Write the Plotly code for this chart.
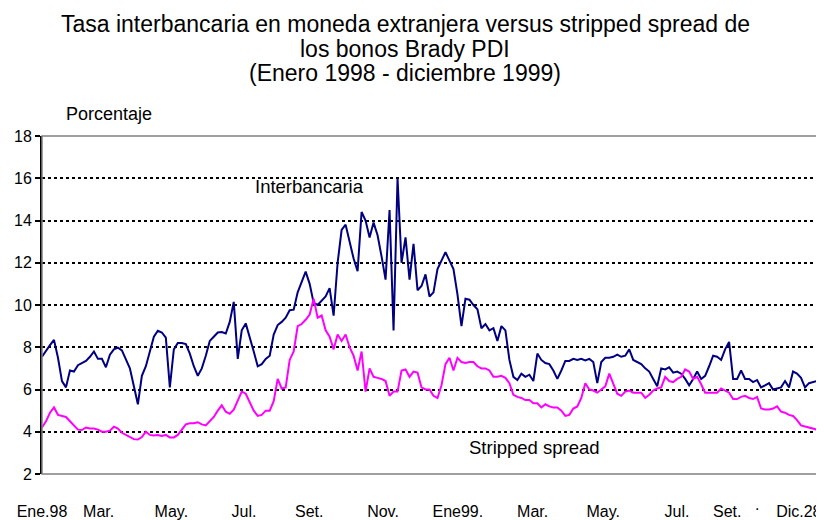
import pandas as pd
import plotly.graph_objects as go

START_DATE = "1998-01-02"
END_DATE = "1999-12-28"

interbancaria = [
    7.55, 7.85, 8.1, 8.35, 7.5, 6.4, 6.1, 6.9, 6.85, 7.15,
    7.25, 7.35, 7.55, 7.8, 7.45, 7.45, 7.05, 7.65, 7.9, 7.98,
    7.85, 7.4, 7.0, 6.15, 5.3, 6.65, 7.1, 7.8, 8.5, 8.78,
    8.7, 8.45, 6.1, 7.9, 8.2, 8.2, 8.15, 7.7, 7.1, 6.65,
    7.0, 7.6, 8.3, 8.5, 8.7, 8.72, 8.65, 9.2, 10.15, 7.45,
    8.8, 9.13, 8.4, 7.8, 7.1, 7.2, 7.45, 7.6, 8.6, 9.05,
    9.2, 9.4, 9.75, 9.78, 10.6, 11.1, 11.58, 11.0, 10.1, 10.0,
    10.2, 10.4, 10.8, 9.5, 12.0, 13.55, 13.8, 13.0, 12.2, 11.6,
    14.4, 14.0, 13.2, 13.9, 13.3, 12.3, 11.2, 14.5, 8.8, 16.0,
    12.0, 13.2, 11.2, 12.9, 10.7, 10.9, 11.45, 10.4, 10.6, 11.7,
    12.1, 12.5, 12.1, 11.7, 10.5, 9.0, 10.3, 10.25, 10.0, 9.8,
    8.9, 9.1, 8.8, 8.9, 8.3, 9.0, 8.8, 7.4, 6.6, 6.45,
    6.75, 6.6, 6.7, 6.4, 7.7, 7.4, 7.25, 7.2, 6.9, 6.5,
    6.9, 7.35, 7.35, 7.45, 7.4, 7.45, 7.38, 7.45, 7.3, 6.3,
    7.3, 7.5, 7.5, 7.55, 7.65, 7.55, 7.6, 7.9, 7.4, 7.3,
    7.2, 7.0, 6.85, 6.5, 6.15, 7.0, 6.95, 7.05, 6.8, 6.85,
    6.75, 6.5, 6.2, 6.5, 6.85, 6.5, 6.65, 7.1, 7.6, 7.55,
    7.4, 7.9, 8.25, 6.5, 6.5, 6.9, 6.5, 6.5, 6.35, 6.45,
    6.1, 6.2, 6.3, 6.0, 6.05, 6.1, 6.4, 6.1, 6.85, 6.75,
    6.55, 6.1, 6.3, 6.35, 6.4,
]

stripped_spread = [
    4.2, 4.5, 4.9, 5.15, 4.8, 4.75, 4.7, 4.5, 4.3, 4.1,
    4.08, 4.2, 4.15, 4.15, 4.1, 4.0, 4.0, 4.05, 4.24, 4.15,
    3.95, 3.85, 3.72, 3.65, 3.63, 3.75, 4.0, 3.85, 3.82, 3.85,
    3.8, 3.85, 3.73, 3.73, 3.85, 4.08, 4.35, 4.4, 4.4, 4.45,
    4.35, 4.3, 4.5, 4.7, 5.0, 5.25, 4.95, 4.85, 5.05, 5.5,
    5.9, 5.8, 5.4, 5.0, 4.75, 4.8, 5.0, 5.0, 5.45, 6.5,
    6.05, 6.1, 7.4, 7.8, 9.0, 9.1, 9.3, 9.55, 10.3, 9.4,
    9.5, 8.8, 8.5, 7.9, 8.6, 8.3, 8.6, 8.0, 7.6, 6.9,
    7.8, 5.9, 7.0, 6.6, 6.55, 6.5, 6.4, 5.7, 5.9, 5.9,
    6.9, 6.95, 6.6, 6.85, 6.8, 6.1, 6.0, 6.0, 5.7, 5.6,
    6.2, 7.2, 7.5, 6.9, 7.5, 7.3, 7.25, 7.3, 7.3, 7.1,
    7.0, 7.0, 6.9, 6.6, 6.6, 6.65, 6.55, 6.3, 5.75, 5.65,
    5.6, 5.5, 5.5, 5.35, 5.35, 5.15, 5.3, 5.2, 5.15, 5.15,
    5.0, 4.75, 4.8, 5.1, 5.2, 5.6, 6.3, 6.0, 5.95, 5.85,
    6.0, 6.15, 6.75, 6.3, 5.8, 5.7, 5.9, 5.95, 5.85, 5.85,
    5.85, 5.6, 5.75, 5.95, 6.05, 6.1, 6.6, 6.4, 6.35, 6.5,
    6.6, 6.95, 6.85, 6.5, 6.6, 6.25, 5.85, 5.85, 5.85, 5.85,
    6.05, 5.95, 5.85, 5.55, 5.55, 5.65, 5.7, 5.6, 5.55, 5.65,
    5.1, 5.05, 5.05, 5.1, 5.2, 4.95, 4.9, 4.8, 4.75, 4.55,
    4.3, 4.25, 4.2, 4.15, 4.1,
]

tick_dates = ["1998-01-02", "1998-02-24", "1998-05-03", "1998-07-10", "1998-09-09",
              "1998-11-17", "1999-01-26", "1999-04-06", "1999-06-11", "1999-08-19",
              "1999-10-05", "1999-12-11"]
tick_labels = ["Ene.98", "Mar.", "May.", "Jul.", "Set.", "Nov.", "Ene99.", "Mar.",
               "May.", "Jul.", "Set.", "Dic.28"]

title_lines = ["Tasa interbancaria en moneda extranjera versus stripped spread de",
               "los bonos Brady PDI",
               "(Enero 1998 - diciembre 1999)"]

dates = pd.date_range(START_DATE, END_DATE, periods=len(interbancaria))

FONT = "Liberation Sans, Arial, sans-serif"

fig = go.Figure()
fig.add_trace(go.Scatter(x=dates, y=interbancaria, mode="lines", name="Interbancaria",
                         line=dict(color="#000080", width=2)))
fig.add_trace(go.Scatter(x=dates, y=stripped_spread, mode="lines", name="Stripped spread",
                         line=dict(color="#FF00FF", width=2)))

annotations = []
for txt, yp in zip(title_lines, [1.330, 1.2574, 1.1852]):
    annotations.append(dict(text=txt, xref="paper", yref="paper", x=0.4684, y=yp,
                            xanchor="center", yanchor="middle", showarrow=False,
                            font=dict(family=FONT, size=23, color="black")))
annotations += [
    dict(text="Porcentaje", xref="paper", yref="paper", x=(64 - 42) / 775, y=1.0645,
         xanchor="left", yanchor="middle", showarrow=False,
         font=dict(family=FONT, size=18, color="black")),
    dict(text="Interbancaria", xref="paper", yref="paper", x=0.2719, y=0.8503,
         xanchor="left", yanchor="middle", showarrow=False,
         font=dict(family=FONT, size=18.5, color="black")),
    dict(text="Stripped spread", xref="paper", yref="paper", x=0.548, y=0.079,
         xanchor="left", yanchor="middle", showarrow=False,
         font=dict(family=FONT, size=18.5, color="black")),
    dict(text=".", xref="paper", yref="paper", x=0.9226, y=-0.09,
         xanchor="center", yanchor="middle", showarrow=False,
         font=dict(family=FONT, size=16, color="black")),
]

fig.update_layout(
    template="none",
    width=816, height=512,
    margin=dict(l=34, r=7, t=128, b=46, autoexpand=False),
    paper_bgcolor="white", plot_bgcolor="white",
    showlegend=False,
    font=dict(family=FONT, color="black"),
    annotations=annotations,
    shapes=[dict(type="rect", xref="paper", yref="paper", x0=0, y0=0, x1=1, y1=1,
                 line=dict(color="#808080", width=1.5), layer="above")],
)
fig.update_xaxes(type="date", range=[dates[0], dates[-1]], tickmode="array",
                 tickvals=tick_dates, ticktext=tick_labels, showgrid=False,
                 showline=False, zeroline=False, ticks="", ticklabelstandoff=26,
                 automargin=False,
                 tickfont=dict(family=FONT, size=16, color="black"))
fig.update_yaxes(range=[2, 18], dtick=2, tick0=2, showline=True, linecolor="black",
                 linewidth=2, ticks="outside", ticklen=5, tickwidth=1.5,
                 tickcolor="black", showgrid=True, gridcolor="black", gridwidth=2,
                 griddash="dot", zeroline=False, automargin=False,
                 tickfont=dict(family=FONT, size=16, color="black"))

fig.write_html("out.html")
